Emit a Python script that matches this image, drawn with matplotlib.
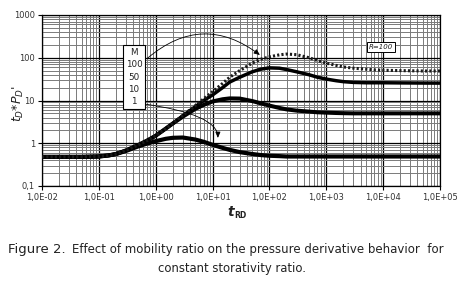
import matplotlib
matplotlib.use("Agg")
import matplotlib.pyplot as plt
from matplotlib.ticker import LogLocator, FixedLocator, FixedFormatter, NullFormatter

# ---------------- data ----------------
t = [0.01, 0.02, 0.05, 0.1, 0.15, 0.2, 0.3, 0.5, 0.7, 1, 1.5, 2, 3, 5, 7, 10, 15, 20,
     30, 50, 70, 100, 150, 200, 300, 500, 700, 1000, 1500, 2000, 3000, 5000, 7000,
     1e4, 2e4, 5e4, 1e5]

m1 = [0.48, 0.48, 0.48, 0.49, 0.52, 0.56, 0.66, 0.85, 0.98, 1.12, 1.27, 1.34, 1.36,
      1.22, 1.08, 0.92, 0.78, 0.70, 0.62, 0.56, 0.53, 0.51, 0.50, 0.49, 0.49, 0.49,
      0.49, 0.49, 0.49, 0.49, 0.49, 0.49, 0.49, 0.49, 0.49, 0.49, 0.49]

m10 = [0.48, 0.48, 0.48, 0.49, 0.52, 0.56, 0.68, 0.92, 1.15, 1.5, 2.2, 2.9, 4.2,
       6.4, 7.9, 9.5, 10.7, 11.2, 11.1, 9.7, 8.6, 7.6, 6.7, 6.2, 5.8, 5.5, 5.3, 5.2,
       5.1, 5.05, 5.0, 5.0, 5.0, 5.0, 5.0, 5.0, 5.0]

m50 = [0.48, 0.48, 0.48, 0.49, 0.52, 0.56, 0.68, 0.92, 1.15, 1.5, 2.2, 2.9, 4.4,
       7.2, 10.0, 13.5, 20, 27, 35, 47, 54, 58, 57, 53, 47, 40, 35, 31.7, 29, 27.6,
       26.5, 26, 26, 26, 25.8, 25.6, 25.5]

m100 = [0.48, 0.48, 0.48, 0.49, 0.52, 0.56, 0.68, 0.92, 1.15, 1.5, 2.2, 2.9, 4.5,
        7.6, 11, 16, 25, 35, 50, 75, 92, 105, 117, 122, 118, 100, 86, 75, 66, 61,
        57, 54, 52, 51, 50, 49, 49]

xticks = [1e-2, 1e-1, 1e0, 1e1, 1e2, 1e3, 1e4, 1e5]
xtick_labels = ["1,0E-02", "1,0E-01", "1,0E+00", "1,0E+01", "1,0E+02", "1,0E+03",
                "1,0E+04", "1,0E+05"]
yticks = [0.1, 1, 10, 100, 1000]
ytick_labels = ["0,1", "1", "10", "100", "1000"]

W, H = 459, 283
fig = plt.figure(figsize=(W / 100, H / 100), dpi=100)
fig.patch.set_facecolor("white")
L, R, T, B = 42, 440, 15, 186
ax = fig.add_axes([L / W, 1 - B / H, (R - L) / W, (B - T) / H])
ax.set_xscale("log")
ax.set_yscale("log")
ax.set_xlim(1e-2, 1e5)
ax.set_ylim(0.1, 1000)

# grid
ax.xaxis.set_minor_locator(LogLocator(base=10, subs=range(2, 10), numticks=100))
ax.yaxis.set_minor_locator(LogLocator(base=10, subs=range(2, 10), numticks=100))
ax.xaxis.set_minor_formatter(NullFormatter())
ax.yaxis.set_minor_formatter(NullFormatter())
ax.grid(which="minor", color="#7a7a7a", linewidth=0.7, zorder=0)
ax.grid(which="major", color="black", linewidth=0.9, zorder=0)
ax.set_axisbelow(True)

ax.xaxis.set_major_locator(FixedLocator(xticks))
ax.xaxis.set_major_formatter(FixedFormatter(xtick_labels))
ax.yaxis.set_major_locator(FixedLocator(yticks))
ax.yaxis.set_major_formatter(FixedFormatter(ytick_labels))
ax.tick_params(which="major", length=3, width=0.8, labelsize=6, colors="black",
               labelcolor="#333333", pad=2)
ax.tick_params(which="minor", length=0)
for s in ax.spines.values():
    s.set_linewidth(0.9)
    s.set_color("black")

# curves
ax.plot(t, m1, color="black", linewidth=3.0, solid_capstyle="butt", zorder=3)
ax.plot(t, m10, color="black", linewidth=2.9, solid_capstyle="butt", zorder=3)
ax.plot(t, m50, color="black", linewidth=2.5, solid_capstyle="butt", zorder=3)
ax.plot(t, m100, color="#1a1a1a", linewidth=2.2, linestyle=(0, (0.7, 0.7)), zorder=4)

# labels box
ax.text(0.231, 0.637, "M\n100\n50\n10\n1", transform=ax.transAxes, ha="center",
        va="center", fontsize=6.3, linespacing=1.45, color="#222222", zorder=6,
        bbox=dict(boxstyle="square,pad=0.35", facecolor="white", edgecolor="black",
                  linewidth=0.8))
ax.text(0.852, 0.813, "R=100", transform=ax.transAxes, ha="center", va="center",
        fontsize=5, style="italic", color="#222222", zorder=6,
        bbox=dict(boxstyle="square,pad=0.25", facecolor="white", edgecolor="black",
                  linewidth=0.7))

# arrows
ax.annotate("", xy=(68, 116), xytext=(0.72, 98),
            arrowprops=dict(arrowstyle="-|>,head_length=0.35,head_width=0.15",
                            color="black", linewidth=0.6,
                            connectionstyle="arc3,rad=-0.4", shrinkA=0, shrinkB=0),
            zorder=5)
ax.annotate("", xy=(12.4, 1.33), xytext=(0.62, 8.3),
            arrowprops=dict(arrowstyle="-|>,head_length=0.35,head_width=0.15",
                            color="black", linewidth=0.6,
                            connectionstyle="angle3,angleA=-8,angleB=90",
                            shrinkA=0, shrinkB=0),
            zorder=5)

# axis labels
fig.text(18 / W, 1 - 103 / H, r"$t_D$*$P_D$'", rotation=90, ha="center",
         va="center", fontsize=9, color="#222222")
fig.text(234 / W, 1 - 216 / H, "t", fontsize=10, fontweight="bold",
         style="italic", ha="right", va="baseline", color="#222222")
fig.text(234 / W, 1 - 218 / H, "RD", fontsize=5.5, fontweight="bold",
         ha="left", va="baseline", color="#222222")

# caption
fig.text(8 / W, 1 - 253 / H, "Figure 2.", fontsize=9.5, ha="left", va="baseline",
         color="#222222")
fig.text(72 / W, 1 - 253 / H,
         "Effect of mobility ratio on the pressure derivative behavior  for",
         fontsize=8.5, ha="left", va="baseline", color="#222222")
fig.text(232 / W, 1 - 272 / H, "constant storativity ratio.", fontsize=8.4,
         ha="center", va="baseline", color="#222222")

fig.savefig("out.png", dpi=100, facecolor="white")
